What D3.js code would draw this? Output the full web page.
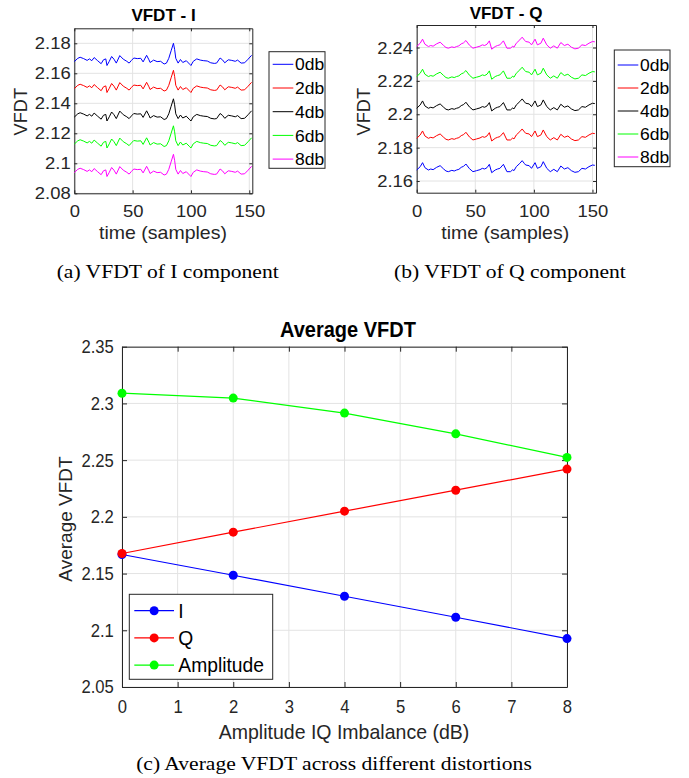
<!DOCTYPE html>
<html>
<head>
<meta charset="utf-8">
<script src="https://cdn.jsdelivr.net/npm/d3@7/dist/d3.min.js"></script>
<style>
    body { margin: 0; background: #fff; }
    svg text { font-family: "Liberation Sans", Arial, sans-serif; }
    svg text.caption { font-family: "Liberation Serif", "Times New Roman", serif; }
</style>
</head>
<body>
<svg id="fig" width="689" height="778"></svg>
<script>
// ---- data ----
const dbNames = ["0db", "2db", "4db", "6db", "8db"];
const dbColors = ["#0000ff", "#ff0000", "#000000", "#00ff00", "#ff00ff"];

// panel (a): VFDT of I component
const samplesI = [0, 3, 5, 8, 11, 13, 15, 17, 20, 23, 25, 27, 28, 30, 32, 34, 36, 39, 42, 45,
    47, 49, 51, 54, 57, 59, 62, 64, 65, 68, 71, 74, 77, 79, 81, 83, 85, 86, 87, 89,
    91, 93, 96, 99, 100, 102, 105, 108, 111, 114, 117, 120, 122, 125, 127, 129, 132, 135, 138, 140,
    143, 146, 149, 152];
const vfdtI0 = [2.1678, 2.1700, 2.1707, 2.1698, 2.1686, 2.1696, 2.1684, 2.1705, 2.1684, 2.1664,
    2.1690, 2.1696, 2.1652, 2.1680, 2.1712, 2.1694, 2.1668, 2.1718, 2.1694, 2.1680,
    2.1668, 2.1686, 2.1702, 2.1698, 2.1700, 2.1676, 2.1720, 2.1690, 2.1672, 2.1688,
    2.1678, 2.1680, 2.1662, 2.1668, 2.1700, 2.1750, 2.1800, 2.1760, 2.1700, 2.1668,
    2.1692, 2.1672, 2.1684, 2.1660, 2.1652, 2.1680, 2.1696, 2.1688, 2.1684, 2.1682,
    2.1670, 2.1666, 2.1668, 2.1702, 2.1690, 2.1670, 2.1690, 2.1686, 2.1680, 2.1688,
    2.1668, 2.1670, 2.1694, 2.1720];
const vfdtI2 = [2.1498, 2.1520, 2.1527, 2.1518, 2.1506, 2.1516, 2.1504, 2.1525, 2.1504, 2.1484,
    2.1510, 2.1516, 2.1472, 2.1500, 2.1532, 2.1514, 2.1488, 2.1538, 2.1514, 2.1500,
    2.1488, 2.1506, 2.1522, 2.1518, 2.1520, 2.1496, 2.1540, 2.1510, 2.1492, 2.1508,
    2.1498, 2.1500, 2.1482, 2.1488, 2.1520, 2.1570, 2.1620, 2.1580, 2.1520, 2.1488,
    2.1512, 2.1492, 2.1504, 2.1480, 2.1472, 2.1500, 2.1516, 2.1508, 2.1504, 2.1502,
    2.1490, 2.1486, 2.1488, 2.1522, 2.1510, 2.1490, 2.1510, 2.1506, 2.1500, 2.1508,
    2.1488, 2.1490, 2.1514, 2.1540];
const vfdtI4 = [2.1308, 2.1330, 2.1337, 2.1328, 2.1316, 2.1326, 2.1314, 2.1335, 2.1314, 2.1294,
    2.1320, 2.1326, 2.1282, 2.1310, 2.1342, 2.1324, 2.1298, 2.1348, 2.1324, 2.1310,
    2.1298, 2.1316, 2.1332, 2.1328, 2.1330, 2.1306, 2.1350, 2.1320, 2.1302, 2.1318,
    2.1308, 2.1310, 2.1292, 2.1298, 2.1330, 2.1380, 2.1430, 2.1390, 2.1330, 2.1298,
    2.1322, 2.1302, 2.1314, 2.1290, 2.1282, 2.1310, 2.1326, 2.1318, 2.1314, 2.1312,
    2.1300, 2.1296, 2.1298, 2.1332, 2.1320, 2.1300, 2.1320, 2.1316, 2.1310, 2.1318,
    2.1298, 2.1300, 2.1324, 2.1350];
const vfdtI6 = [2.1128, 2.1150, 2.1157, 2.1148, 2.1136, 2.1146, 2.1134, 2.1155, 2.1134, 2.1114,
    2.1140, 2.1146, 2.1102, 2.1130, 2.1162, 2.1144, 2.1118, 2.1168, 2.1144, 2.1130,
    2.1118, 2.1136, 2.1152, 2.1148, 2.1150, 2.1126, 2.1170, 2.1140, 2.1122, 2.1138,
    2.1128, 2.1130, 2.1112, 2.1118, 2.1150, 2.1200, 2.1250, 2.1210, 2.1150, 2.1118,
    2.1142, 2.1122, 2.1134, 2.1110, 2.1102, 2.1130, 2.1146, 2.1138, 2.1134, 2.1132,
    2.1120, 2.1116, 2.1118, 2.1152, 2.1140, 2.1120, 2.1140, 2.1136, 2.1130, 2.1138,
    2.1118, 2.1120, 2.1144, 2.1170];
const vfdtI8 = [2.0938, 2.0960, 2.0967, 2.0958, 2.0946, 2.0956, 2.0944, 2.0965, 2.0944, 2.0924,
    2.0950, 2.0956, 2.0912, 2.0940, 2.0972, 2.0954, 2.0928, 2.0978, 2.0954, 2.0940,
    2.0928, 2.0946, 2.0962, 2.0958, 2.0960, 2.0936, 2.0980, 2.0950, 2.0932, 2.0948,
    2.0938, 2.0940, 2.0922, 2.0928, 2.0960, 2.1010, 2.1060, 2.1020, 2.0960, 2.0928,
    2.0952, 2.0932, 2.0944, 2.0920, 2.0912, 2.0940, 2.0956, 2.0948, 2.0944, 2.0942,
    2.0930, 2.0926, 2.0928, 2.0962, 2.0950, 2.0930, 2.0950, 2.0946, 2.0940, 2.0948,
    2.0928, 2.0930, 2.0954, 2.0980];

// panel (b): VFDT of Q component
const samplesQ = [0, 3, 5, 7, 10, 12, 14, 17, 20, 23, 25, 27, 30, 32, 34, 36, 38, 40, 42, 45,
    48, 51, 54, 56, 58, 60, 62, 64, 67, 69, 71, 74, 77, 80, 82, 83, 85, 88, 90, 92,
    93, 96, 98, 101, 103, 106, 108, 111, 114, 117, 120, 123, 126, 129, 132, 135, 138, 141, 144, 147,
    150, 152];
const vfdtQ0 = [2.1666, 2.1686, 2.1710, 2.1680, 2.1666, 2.1672, 2.1668, 2.1682, 2.1692, 2.1672,
    2.1660, 2.1656, 2.1664, 2.1660, 2.1666, 2.1670, 2.1682, 2.1688, 2.1702, 2.1674,
    2.1656, 2.1662, 2.1668, 2.1676, 2.1672, 2.1680, 2.1700, 2.1650, 2.1666, 2.1672,
    2.1676, 2.1700, 2.1656, 2.1656, 2.1668, 2.1662, 2.1686, 2.1706, 2.1722, 2.1704,
    2.1696, 2.1692, 2.1676, 2.1710, 2.1676, 2.1686, 2.1716, 2.1676, 2.1656, 2.1670,
    2.1656, 2.1690, 2.1672, 2.1680, 2.1662, 2.1652, 2.1656, 2.1676, 2.1672, 2.1686,
    2.1696, 2.1694];
const vfdtQ2 = [2.1856, 2.1876, 2.1900, 2.1870, 2.1856, 2.1862, 2.1858, 2.1872, 2.1882, 2.1862,
    2.1850, 2.1846, 2.1854, 2.1850, 2.1856, 2.1860, 2.1872, 2.1878, 2.1892, 2.1864,
    2.1846, 2.1852, 2.1858, 2.1866, 2.1862, 2.1870, 2.1890, 2.1840, 2.1856, 2.1862,
    2.1866, 2.1890, 2.1846, 2.1846, 2.1858, 2.1852, 2.1876, 2.1896, 2.1912, 2.1894,
    2.1886, 2.1882, 2.1866, 2.1900, 2.1866, 2.1876, 2.1906, 2.1866, 2.1846, 2.1860,
    2.1846, 2.1880, 2.1862, 2.1870, 2.1852, 2.1842, 2.1846, 2.1866, 2.1862, 2.1876,
    2.1886, 2.1884];
const vfdtQ4 = [2.2036, 2.2056, 2.2080, 2.2050, 2.2036, 2.2042, 2.2038, 2.2052, 2.2062, 2.2042,
    2.2030, 2.2026, 2.2034, 2.2030, 2.2036, 2.2040, 2.2052, 2.2058, 2.2072, 2.2044,
    2.2026, 2.2032, 2.2038, 2.2046, 2.2042, 2.2050, 2.2070, 2.2020, 2.2036, 2.2042,
    2.2046, 2.2070, 2.2026, 2.2026, 2.2038, 2.2032, 2.2056, 2.2076, 2.2092, 2.2074,
    2.2066, 2.2062, 2.2046, 2.2080, 2.2046, 2.2056, 2.2086, 2.2046, 2.2026, 2.2040,
    2.2026, 2.2060, 2.2042, 2.2050, 2.2032, 2.2022, 2.2026, 2.2046, 2.2042, 2.2056,
    2.2066, 2.2064];
const vfdtQ6 = [2.2226, 2.2246, 2.2270, 2.2240, 2.2226, 2.2232, 2.2228, 2.2242, 2.2252, 2.2232,
    2.2220, 2.2216, 2.2224, 2.2220, 2.2226, 2.2230, 2.2242, 2.2248, 2.2262, 2.2234,
    2.2216, 2.2222, 2.2228, 2.2236, 2.2232, 2.2240, 2.2260, 2.2210, 2.2226, 2.2232,
    2.2236, 2.2260, 2.2216, 2.2216, 2.2228, 2.2222, 2.2246, 2.2266, 2.2282, 2.2264,
    2.2256, 2.2252, 2.2236, 2.2270, 2.2236, 2.2246, 2.2276, 2.2236, 2.2216, 2.2230,
    2.2216, 2.2250, 2.2232, 2.2240, 2.2222, 2.2212, 2.2216, 2.2236, 2.2232, 2.2246,
    2.2256, 2.2254];
const vfdtQ8 = [2.2406, 2.2426, 2.2450, 2.2420, 2.2406, 2.2412, 2.2408, 2.2422, 2.2432, 2.2412,
    2.2400, 2.2396, 2.2404, 2.2400, 2.2406, 2.2410, 2.2422, 2.2428, 2.2442, 2.2414,
    2.2396, 2.2402, 2.2408, 2.2416, 2.2412, 2.2420, 2.2440, 2.2390, 2.2406, 2.2412,
    2.2416, 2.2440, 2.2396, 2.2396, 2.2408, 2.2402, 2.2426, 2.2446, 2.2462, 2.2444,
    2.2436, 2.2432, 2.2416, 2.2450, 2.2416, 2.2426, 2.2456, 2.2416, 2.2396, 2.2410,
    2.2396, 2.2430, 2.2412, 2.2420, 2.2402, 2.2392, 2.2396, 2.2416, 2.2412, 2.2426,
    2.2436, 2.2434];

// panel (c): average VFDT
const imbalanceDb = [0, 2, 4, 6, 8];
const avgNames = ["I", "Q", "Amplitude"];
const avgColors = ["#0000ff", "#ff0000", "#00ff00"];
const avgI = [2.1668, 2.1485, 2.1300, 2.1115, 2.0927];
const avgQ = [2.1677, 2.1865, 2.2050, 2.2235, 2.2421];
const avgAmp = [2.3090, 2.3047, 2.2915, 2.2732, 2.2524];

// ticks
const timeTicks = [0, 50, 100, 150];
const timeTickLabels = ["0", "50", "100", "150"];
const yTicksI = [2.08, 2.10, 2.12, 2.14, 2.16, 2.18];
const yTickLabelsI = ["2.08", "2.1", "2.12", "2.14", "2.16", "2.18"];
const yTicksQ = [2.16, 2.18, 2.20, 2.22, 2.24];
const yTickLabelsQ = ["2.16", "2.18", "2.2", "2.22", "2.24"];
const dbTicks = [0, 1, 2, 3, 4, 5, 6, 7, 8];
const dbTickLabels = ["0", "1", "2", "3", "4", "5", "6", "7", "8"];
const yTicksAvg = [2.05, 2.10, 2.15, 2.20, 2.25, 2.30, 2.35];
const yTickLabelsAvg = ["2.05", "2.1", "2.15", "2.2", "2.25", "2.3", "2.35"];

// ---- drawing ----
const axisColor = "#262626";
const gridColor = "#e3e3e3";
const svg = d3.select("#fig");

// the scanned figure is not scaled evenly; stretch text horizontally by sx
function stretch(sel, sx) {
    sel.each(function () {
        let t = d3.select(this);
        let x = +t.attr("x") || 0;
        t.attr("x", x / sx).attr("transform", `scale(${sx},1)`);
    });
    return sel;
}

function frame(g, x, y, o) {
    let [left, right] = x.range();
    let [bottom, top] = y.range();

    // grid
    g.append("g").selectAll("line").data(o.xTicks).join("line")
        .attr("x1", d => x(d)).attr("x2", d => x(d))
        .attr("y1", top).attr("y2", bottom)
        .attr("stroke", gridColor);
    g.append("g").selectAll("line").data(o.yTicks).join("line")
        .attr("y1", d => y(d)).attr("y2", d => y(d))
        .attr("x1", left).attr("x2", right)
        .attr("stroke", gridColor);

    let fmtX = (d, i) => o.xLabels[i];
    let fmtY = (d, i) => o.yLabels[i];

    let axes = [
        [d3.axisBottom(x).tickFormat(fmtX).tickPadding(o.padX), `translate(0,${bottom})`],
        [d3.axisTop(x).tickFormat(""), `translate(0,${top})`],
        [d3.axisLeft(y).tickFormat(fmtY).tickPadding(o.padY), `translate(${left},0)`],
        [d3.axisRight(y).tickFormat(""), `translate(${right},0)`]
    ];
    axes.forEach(([ax, tr], i) => {
        let vals = i < 2 ? o.xTicks : o.yTicks;
        let a = g.append("g")
            .attr("transform", tr)
            .call(ax.tickValues(vals).tickSizeInner(-o.tick).tickSizeOuter(0));
        a.attr("font-family", null).attr("font-size", o.tickFont);
        a.select(".domain").attr("stroke", axisColor);
        a.selectAll(".tick line").attr("stroke", axisColor);
        stretch(a.selectAll(".tick text").attr("fill", axisColor), o.sx);
    });
}

function legend(g, o) {
    g.append("rect")
        .attr("x", o.box[0]).attr("y", o.box[1])
        .attr("width", o.box[2] - o.box[0]).attr("height", o.box[3] - o.box[1])
        .attr("fill", "#fff").attr("stroke", axisColor);
    o.names.forEach((name, i) => {
        let yy = o.first + i * o.step;
        g.append("line")
            .attr("x1", o.line[0]).attr("x2", o.line[1])
            .attr("y1", yy).attr("y2", yy)
            .attr("stroke", o.colors[i]).attr("stroke-width", o.lw);
        if (o.marker) {
            g.append("circle")
                .attr("cx", (o.line[0] + o.line[1]) / 2).attr("cy", yy)
                .attr("r", o.marker).attr("fill", o.colors[i]);
        }
        stretch(g.append("text")
            .attr("x", o.textX).attr("y", yy).attr("dy", "0.36em")
            .attr("font-size", o.font).attr("fill", "#000")
            .text(name), o.sx);
    });
}

function caption(text, x, y) {
    stretch(svg.append("text")
        .attr("class", "caption")
        .attr("x", x).attr("y", y)
        .attr("text-anchor", "middle").attr("font-size", 19.8)
        .text(text), 1.09);
}

function timePanel(p) {
    let g = svg.append("g");
    let x = d3.scaleLinear().domain(p.xDomain).range(p.xRange);
    let y = d3.scaleLinear().domain(p.yDomain).range(p.yRange);
    let sx = 1.06;

    frame(g, x, y, {
        xTicks: timeTicks, xLabels: timeTickLabels,
        yTicks: p.yTicks, yLabels: p.yLabels,
        tick: 3, padX: 11.5, padY: 3.6, tickFont: 17.4, sx: sx
    });

    let line = d3.line().x(d => x(d[0])).y(d => y(d[1]));
    p.series.forEach((vals, i) => {
        g.append("path")
            .datum(p.samples.map((s, j) => [s, vals[j]]))
            .attr("d", line)
            .attr("fill", "none")
            .attr("stroke", dbColors[i])
            .attr("stroke-width", 1);
    });

    stretch(g.append("text")
        .attr("x", p.titleX).attr("y", p.titleY)
        .attr("text-anchor", "middle").attr("font-size", 17).attr("font-weight", "bold")
        .text(p.title), 1.0);
    stretch(g.append("text")
        .attr("x", p.xLabelX).attr("y", 239.5)
        .attr("text-anchor", "middle").attr("font-size", 18.4).attr("fill", axisColor)
        .text("time (samples)"), sx);
    g.append("text")
        .attr("transform", `translate(${p.yLabelX},111.7) rotate(-90)`)
        .attr("text-anchor", "middle").attr("font-size", 18.2).attr("fill", axisColor)
        .text("VFDT");

    legend(g, {
        box: p.legendBox, names: dbNames, colors: dbColors,
        first: p.legendFirst, step: p.legendStep, line: p.legendLine,
        textX: p.legendLine[1] + 1.7, font: 17, lw: 1, sx: 1.03
    });

    caption(p.caption, p.captionX, 278.5);
}

timePanel({
    samples: samplesI,
    series: [vfdtI0, vfdtI2, vfdtI4, vfdtI6, vfdtI8],
    xDomain: [0, 152.6], xRange: [74.3, 252.3],
    yDomain: [2.08, 2.19], yRange: [193.3, 28.3],
    yTicks: yTicksI, yLabels: yTickLabelsI,
    title: "VFDT - I", titleX: 163.5, titleY: 20.5,
    xLabelX: 163, yLabelX: 26.7,
    legendBox: [269, 51.7, 325, 168.3], legendFirst: 64.3, legendStep: 23.7,
    legendLine: [272.7, 293.3],
    caption: "(a) VFDT of I component", captionX: 167.7
});

timePanel({
    samples: samplesQ,
    series: [vfdtQ0, vfdtQ2, vfdtQ4, vfdtQ6, vfdtQ8],
    xDomain: [0, 153], xRange: [416.7, 596],
    yDomain: [2.153, 2.2535], yRange: [192.7, 25],
    yTicks: yTicksQ, yLabels: yTickLabelsQ,
    title: "VFDT - Q", titleX: 506, titleY: 18.5,
    xLabelX: 505.3, yLabelX: 370,
    legendBox: [614.3, 50, 670, 166.7], legendFirst: 65, legendStep: 23,
    legendLine: [617.7, 638.3],
    caption: "(b) VFDT of Q component", captionX: 510
});

// panel (c)
(function () {
    let g = svg.append("g");
    let x = d3.scaleLinear().domain([0, 8]).range([122, 567]);
    let y = d3.scaleLinear().domain([2.05, 2.35]).range([687, 346.7]);
    let sx = 0.9;

    frame(g, x, y, {
        xTicks: dbTicks, xLabels: dbTickLabels,
        yTicks: yTicksAvg, yLabels: yTickLabelsAvg,
        tick: 5, padX: 13, padY: 8.2, tickFont: 18.5, sx: sx
    });

    let series = [avgI, avgQ, avgAmp];
    let line = d3.line().x(d => x(d[0])).y(d => y(d[1]));
    series.forEach((vals, i) => {
        let pts = imbalanceDb.map((db, j) => [db, vals[j]]);
        g.append("path")
            .datum(pts)
            .attr("d", line)
            .attr("fill", "none")
            .attr("stroke", avgColors[i])
            .attr("stroke-width", 1.2);
        g.append("g").selectAll("circle").data(pts).join("circle")
            .attr("cx", d => x(d[0])).attr("cy", d => y(d[1]))
            .attr("r", 4.5).attr("fill", avgColors[i]);
    });

    stretch(g.append("text")
        .attr("x", 348).attr("y", 337)
        .attr("text-anchor", "middle").attr("font-size", 21.5).attr("font-weight", "bold")
        .text("Average VFDT"), 0.93);
    stretch(g.append("text")
        .attr("x", 344).attr("y", 739)
        .attr("text-anchor", "middle").attr("font-size", 21).attr("fill", axisColor)
        .text("Amplitude IQ Imbalance (dB)"), 0.93);
    g.append("text")
        .attr("transform", "translate(71.5,519) rotate(-90)")
        .attr("text-anchor", "middle").attr("font-size", 19).attr("fill", axisColor)
        .text("Average VFDT");

    legend(g, {
        box: [129.3, 594.3, 272.7, 679.3], names: avgNames, colors: avgColors,
        first: 610.7, step: 27.2, line: [134.3, 174],
        textX: 178.3, font: 20.5, lw: 1.2, marker: 4.5, sx: 0.94
    });

    caption("(c) Average VFDT across different distortions", 334, 770.5);
})();
</script>
</body>
</html>
